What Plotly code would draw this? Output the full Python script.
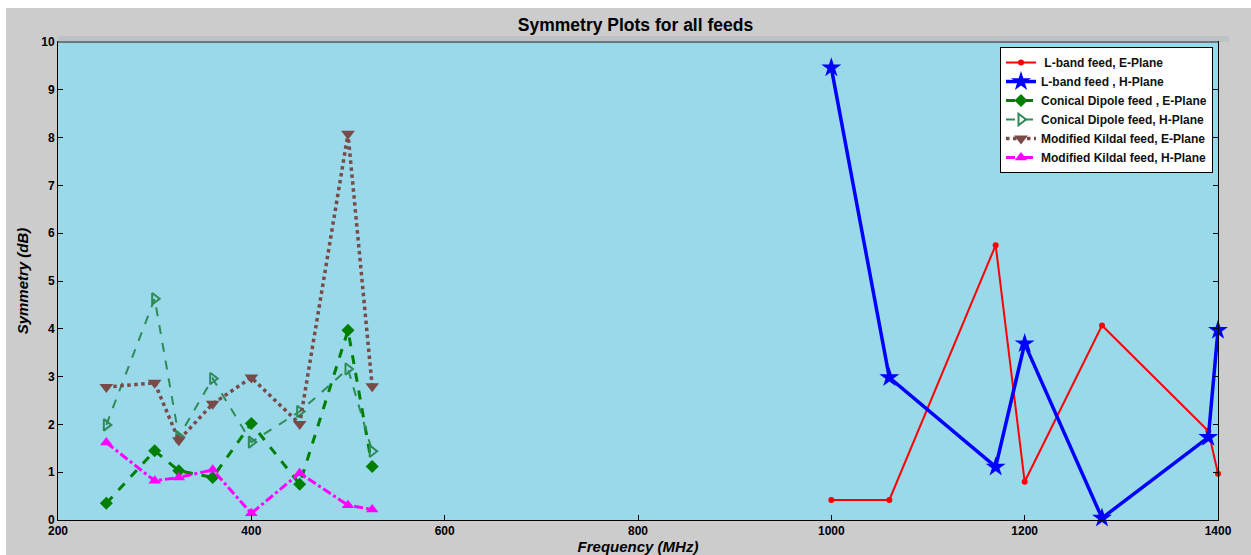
import plotly.graph_objects as go

# Frequencies (MHz)
freq_lband_e = [1000, 1060, 1170, 1200, 1280, 1390, 1400]
freq_lband_h = [1000, 1060, 1170, 1200, 1280, 1390, 1400]
freq_low = [250, 300, 325, 360, 400, 450, 500, 525]

# Symmetry values (dB)
sym_lband_e = [0.42, 0.42, 5.75, 0.80, 4.07, 1.86, 0.97]
sym_lband_h = [9.46, 2.98, 1.11, 3.69, 0.04, 1.73, 3.97]
sym_conical_e = [0.35, 1.45, 1.03, 0.89, 2.02, 0.75, 3.97, 1.12]
sym_conical_h = [1.99, 4.63, 1.74, 2.96, 1.63, 2.27, 3.16, 1.44]
sym_kildal_e = [2.78, 2.87, 1.67, 2.43, 2.98, 2.01, 8.08, 2.80]
sym_kildal_h = [1.62, 0.82, 0.89, 1.05, 0.14, 0.98, 0.31, 0.22]

names = [
    " L-band feed, E-Plane",
    "L-band feed , H-Plane",
    "Conical Dipole feed , E-Plane",
    "Conical Dipole feed, H-Plane",
    "Modified Kildal feed, E-Plane",
    "Modified Kildal feed, H-Plane",
]

FONT = "Liberation Sans, Arial, sans-serif"

fig = go.Figure()

fig.add_trace(go.Scatter(
    x=freq_lband_e, y=sym_lband_e, name=names[0], mode="lines+markers",
    line=dict(color="#ff0000", width=2),
    marker=dict(symbol="circle", size=6, color="#ff0000"),
    cliponaxis=False,
))
fig.add_trace(go.Scatter(
    x=freq_lband_h, y=sym_lband_h, name=names[1], mode="lines+markers",
    line=dict(color="#0000ff", width=3.5),
    marker=dict(symbol="star", size=15, color="#0000ff"),
    cliponaxis=False,
))
fig.add_trace(go.Scatter(
    x=freq_low, y=sym_conical_e, name=names[2], mode="lines+markers",
    line=dict(color="#007f00", width=3, dash="dash"),
    marker=dict(symbol="diamond", size=10, color="#007f00"),
    cliponaxis=False,
))
fig.add_trace(go.Scatter(
    x=freq_low, y=sym_conical_h, name=names[3], mode="lines+markers",
    line=dict(color="#2e8b57", width=2, dash="dash"),
    marker=dict(symbol="triangle-right-open", size=10, color="#2e8b57",
                line=dict(width=2)),
    cliponaxis=False,
))
fig.add_trace(go.Scatter(
    x=freq_low, y=sym_kildal_e, name=names[4], mode="lines+markers",
    line=dict(color="#7a4a48", width=3.5, dash="dot"),
    marker=dict(symbol="triangle-down", size=12, color="#7a4a48"),
    cliponaxis=False,
))
fig.add_trace(go.Scatter(
    x=freq_low, y=sym_kildal_h, name=names[5], mode="lines+markers",
    line=dict(color="#ff00ff", width=3, dash="dashdot"),
    marker=dict(symbol="triangle-up", size=11, color="#ff00ff"),
    cliponaxis=False,
))

# Figure frame: white outer edges and a grey band above the axes
fig.add_shape(type="rect", xref="paper", yref="paper", layer="below",
              x0=-0.06, x1=1.04, y0=1.0711, y1=1.1, line_width=0,
              fillcolor="white")
fig.add_shape(type="rect", xref="paper", yref="paper", layer="below",
              x0=-0.06, x1=-0.0448, y0=-0.08, y1=1.1, line_width=0,
              fillcolor="white")
fig.add_shape(type="rect", xref="paper", yref="paper", layer="below",
              x0=0.0, x1=1.0095, y0=1.0, y1=1.0126, line_width=0,
              fillcolor="#bcc3c6")
fig.add_shape(type="line", xref="paper", yref="paper",
              x0=0.0, x1=1.0, y0=1.0, y1=1.0,
              line=dict(color="#6a777b", width=2))

fig.update_layout(
    width=1251, height=555,
    margin=dict(l=58, r=33, t=42, b=35),
    paper_bgcolor="#cccccc",
    plot_bgcolor="#99d9ea",
    font=dict(family=FONT, size=12, color="black"),
    title=dict(text="Symmetry Plots for all feeds", x=0.508, xanchor="center",
               y=1 - 25 / 555, yanchor="middle", yref="container",
               font=dict(family=FONT, size=17.5, color="black", weight="bold")),
    showlegend=True,
    legend=dict(x=0.9957, y=0.9895, xanchor="right", yanchor="top",
                bgcolor="white", bordercolor="black", borderwidth=1,
                font=dict(family=FONT, size=12, color="#111111", weight="bold"),
                tracegroupgap=0),
    xaxis=dict(range=[200, 1400], dtick=200, tick0=200, automargin=False,
               showgrid=False, zeroline=False,
               showline=True, linecolor="black", linewidth=1, mirror=True,
               ticks="inside", ticklen=5, tickcolor="black",
               tickfont=dict(family=FONT, size=12, color="black", weight="bold"),
               title=dict(text="Frequency (MHz)", standoff=0,
                          font=dict(family=FONT, size=15, color="black",
                                    weight="bold", style="italic"))),
    yaxis=dict(range=[0, 10], dtick=1, tick0=0, automargin=False,
               showgrid=False, zeroline=False,
               showline=True, linecolor="black", linewidth=1, mirror="ticks",
               ticks="inside", ticklen=5, tickcolor="black",
               tickfont=dict(family=FONT, size=12, color="black", weight="bold"),
               title=dict(text="Symmetry (dB)", standoff=8,
                          font=dict(family=FONT, size=15, color="black",
                                    weight="bold", style="italic"))),
)

fig.write_html("out.html")
